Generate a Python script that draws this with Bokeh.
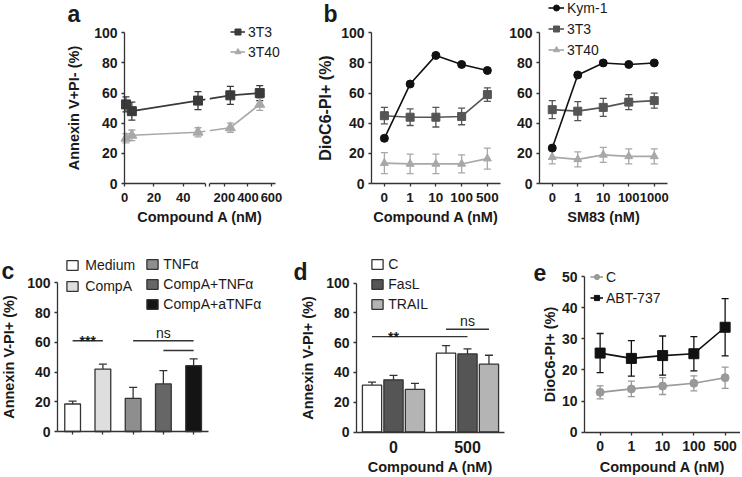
from bokeh.plotting import figure
from bokeh.models import (ColumnDataSource, Range1d, FixedTicker,
                          Whisker, TeeHead, Legend, LegendItem, Label)
from bokeh.layouts import row, column
from bokeh.core.properties import value
from bokeh.embed import file_html
from bokeh.resources import INLINE

# ------------------------------------------------------------------ data
# panel a (broken x axis)
A_DOSE = [1, 5, 50, 250, 500]
A_3T3 = [52.5, 48, 55, 58.5, 60]
A_3T3_ERR = [5, 6, 6, 6, 5]
A_3T40 = [30, 32, 34, 37, 52.5]
A_3T40_ERR = [3, 3.5, 3, 3, 4]
A_TICKS = [0, 20, 40, 200, 400, 600]

# panel b
B1_DOSE = ["0", "1", "10", "100", "500"]
B1_KYM = [30, 66, 85, 79, 75]
B1_KYM_ERR = [1.5, 1, 1, 1, 1]
B1_3T3 = [45, 44, 44, 44.5, 59]
B1_3T3_ERR = [5.5, 5.5, 6.5, 5.5, 4.5]
B1_3T40 = [13.5, 13, 13, 13, 16.5]
B1_3T40_ERR = [7, 6.5, 6.5, 6, 7]

B2_DOSE = ["0", "1", "10", "100", "1000"]
B2_KYM = [23.5, 72, 80, 79, 80]
B2_KYM_ERR = [1, 1, 1, 1, 1]
B2_3T3 = [49, 48, 50.5, 54, 55]
B2_3T3_ERR = [6, 6.3, 6, 5, 5]
B2_3T40 = [17.5, 16, 19, 18, 18]
B2_3T40_ERR = [4.5, 5, 5, 5, 5]

# panel c
C_GROUPS = ["Medium", "CompA", "TNFα", "CompA+TNFα", "CompA+aTNFα"]
C_VALUES = [18.5, 42, 22.3, 32, 44.3]
C_ERR = [1.9, 3.3, 7.4, 9, 4.5]
C_SIG_FROM = ["Medium", "TNFα", "CompA+TNFα"]
C_SIG_TO = ["CompA", "CompA+aTNFα", "CompA+aTNFα"]
C_SIG_Y = [61, 61, 54.5]

# panel d
D_DOSE = ["0", "500"]
D_SERIES = ["C", "FasL", "TRAIL"]
D_VALUES = {"C": [31.5, 53], "FasL": [35, 52.4], "TRAIL": [28.6, 45.5]}
D_ERR = {"C": [2, 5], "FasL": [3, 3.4], "TRAIL": [4, 6]}
D_SIG_FROM = [("0", "C"), ("500", "C"), ("500", "C")]
D_SIG_TO = [("500", "C"), ("500", "TRAIL"), ("500", "FasL")]
D_SIG_Y = [64, 69, 64]

# panel e
E_DOSE = ["0", "1", "10", "100", "500"]
E_C = [12.8, 13.9, 14.8, 15.7, 17.5]
E_C_ERR = [2.1, 2.5, 2.7, 2.4, 3.4]
E_ABT = [25.4, 23.7, 24.6, 25.2, 33.7]
E_ABT_ERR = [6.3, 5.7, 6.3, 5.5, 9.2]

Y_TICKS = [0, 20, 40, 60, 80, 100]
E_Y_TICKS = [0, 10, 20, 30, 40, 50]

# ------------------------------------------------------------------ style
FONT = "Liberation Sans"
INK = "#1a1a1a"
AXIS = "#333333"
DARK = "#3a3a3a"
MID = "#555555"
LIGHT = "#a8a8a8"
BLACK = "#111111"
C_FILLS = ["#ffffff", "#dedede", "#8e8e8e", "#666666", "#141414"]
D_FILLS = {"C": "#ffffff", "FasL": "#555555", "TRAIL": "#b4b4b4"}
D_OFFSET = {"C": -0.29, "FasL": 0.0, "TRAIL": 0.29}
ROW1_H, ROW2_H = 238, 237


def cat_pos(factors):
    """categorical scale: factor -> centre of its unit slot"""
    return {f: i + 0.5 for i, f in enumerate(factors)}


def make_fig(W, H, ox, ppx, oy, ppy, x_bounds, y_bounds, y_ticks):
    """Whole canvas is the frame; axes are pinned at data x=0 / y=0.
    ox/oy: pixel position of the axes origin (from left / from top),
    ppx/ppy: pixels per data unit."""
    xr = Range1d(-ox / ppx, (W - ox) / ppx)
    yr = Range1d(-(H - oy) / ppy, oy / ppy)
    p = figure(width=W, height=H, x_range=xr, y_range=yr, min_border=0,
               min_border_left=0, min_border_right=0, min_border_top=0, min_border_bottom=0,
               title=None, output_backend="svg", toolbar_location=None, tools="")
    p.outline_line_color = None
    p.grid.visible = False
    p.background_fill_color = "white"
    p.border_fill_color = "white"
    for ax in p.axis:
        ax.fixed_location = 0
        ax.axis_line_color = AXIS
        ax.axis_line_width = 1.3
        ax.major_tick_line_color = AXIS
        ax.major_tick_line_width = 1.3
        ax.major_tick_in = 0
        ax.major_tick_out = 3
        ax.minor_tick_line_color = None
        ax.major_label_text_font = FONT
        ax.major_label_text_font_style = "bold"
        ax.major_label_text_font_size = "14px"
        ax.major_label_text_color = INK
        ax.axis_label_text_font = FONT
        ax.axis_label_text_font_style = "bold"
        ax.axis_label_text_font_size = "14.5px"
        ax.axis_label_text_color = INK
    p.yaxis.major_label_standoff = 4
    p.yaxis.bounds = y_bounds
    p.yaxis.ticker = FixedTicker(ticks=y_ticks)
    p.xaxis.bounds = x_bounds
    p.xaxis.major_label_standoff = 6
    p.xaxis.axis_label_standoff = 4
    return p


def cat_axis(p, factors, labels=True):
    pos = cat_pos(factors)
    p.xaxis.ticker = FixedTicker(ticks=list(pos.values()))
    p.xaxis.major_label_overrides = {v: (f if labels else "") for f, v in pos.items()}
    return pos


def whisk(p, src, base, lower, upper, color, size=7, both=True):
    w = Whisker(base=base, lower=lower, upper=upper, source=src, dimension="height",
                line_color=color, line_width=1.3, level="underlay",
                upper_head=TeeHead(size=size, line_color=color, line_width=1.3),
                lower_head=TeeHead(size=size, line_color=color, line_width=1.3) if both else None)
    p.add_layout(w)


def series(p, x, y, err, color, marker, size):
    src = ColumnDataSource(dict(x=x, y=y,
                                lo=[a - b for a, b in zip(y, err)],
                                hi=[a + b for a, b in zip(y, err)]))
    whisk(p, src, "x", "lo", "hi", color)
    ln = p.line("x", "y", source=src, line_color=color, line_width=1.6)
    sc = p.scatter("x", "y", source=src, marker=marker, size=size,
                   fill_color=color, line_color=color)
    return ln, sc


def legend(p, items, loc, gw, gh, standoff, spacing):
    lg = Legend(items=items, location=loc, orientation="vertical",
                border_line_color=None, background_fill_alpha=0,
                padding=0, margin=0, glyph_width=gw, glyph_height=gh,
                label_height=gh, label_standoff=standoff, spacing=spacing,
                label_text_font=FONT, label_text_font_size="14px",
                label_text_color=INK)
    p.add_layout(lg)


def letter(p, text, x, y):
    p.add_layout(Label(x=x, y=y, x_units="screen", y_units="screen", text=text,
                       text_font=FONT, text_font_style="bold", text_font_size="23px",
                       text_color=INK, text_baseline="alphabetic"))


# ------------------------------------------------------------------ panel a
BREAK_LO, BREAK_HI, BREAK_GAP, RIGHT_SCALE, A_XMAX = 55, 75, 3, 0.08, 634


def brk(v):
    return v if v <= BREAK_LO else BREAK_LO + BREAK_GAP + (v - BREAK_HI) * RIGHT_SCALE


pa = make_fig(300, ROW1_H, 124, 1.47, 183, 1.507, (0, brk(A_XMAX)), (0, 100), Y_TICKS)
pa.xaxis.axis_line_color = None
pa.xaxis.major_label_text_font_size = "13px"
pa.xaxis.ticker = FixedTicker(ticks=[brk(t) for t in A_TICKS] + [brk(BREAK_LO), brk(BREAK_HI)])
overrides = {brk(t): str(t) for t in A_TICKS}
overrides[brk(BREAK_LO)] = ""
overrides[brk(BREAK_HI)] = ""
pa.xaxis.major_label_overrides = overrides
pa.yaxis.axis_label = "Annexin V+PI- (%)"
pa.yaxis.axis_label_standoff = 9
pa.xaxis.axis_label = "Compound A (nM)"
pa.segment(x0=[brk(0), brk(BREAK_HI)], x1=[brk(BREAK_LO), brk(A_XMAX)], y0=[0, 0], y1=[0, 0],
           line_color=AXIS, line_width=1.3)
xa = [brk(v) for v in A_DOSE]
a1 = series(pa, xa, A_3T3, A_3T3_ERR, DARK, "square", 9)
a2 = series(pa, xa, A_3T40, A_3T40_ERR, LIGHT, "triangle", 10)
pa.quad(left=[brk(BREAK_LO)], right=[brk(BREAK_HI)], bottom=[1], top=[99],
        fill_color="white", line_color=None)
legend(pa, [LegendItem(label="3T3", renderers=list(a1)),
            LegendItem(label="3T40", renderers=list(a2))], (230, 178.5), 15, 15, 3, 4)
letter(pa, "a", 67, 224.7)

# ------------------------------------------------------------------ panel b
pb1 = make_fig(205, ROW1_H, 71, 25.75, 183, 1.507, (0, len(B1_DOSE)), (0, 100), Y_TICKS)
pos_b1 = cat_axis(pb1, B1_DOSE)
pb1.xaxis.major_label_text_font_size = "13.5px"
pb1.yaxis.axis_label = "DioC6-PI+ (%)"
pb1.yaxis.axis_label_text_font_size = "16px"
pb1.yaxis.axis_label_standoff = 4
pb1.xaxis.axis_label = "Compound A (nM)"
xb1 = [pos_b1[d] for d in B1_DOSE]
series(pb1, xb1, B1_3T40, B1_3T40_ERR, LIGHT, "triangle", 8)
series(pb1, xb1, B1_3T3, B1_3T3_ERR, MID, "square", 8)
series(pb1, xb1, B1_KYM, B1_KYM_ERR, BLACK, "circle", 8)
letter(pb1, "b", 23, 224.7)

pb2 = make_fig(235, ROW1_H, 34, 25.5, 183, 1.507, (0, len(B2_DOSE)), (0, 100), Y_TICKS)
pos_b2 = cat_axis(pb2, B2_DOSE)
pb2.xaxis.major_label_text_font_size = "13px"
pb2.xaxis.axis_label = "SM83 (nM)"
xb2 = [pos_b2[d] for d in B2_DOSE]
b3 = series(pb2, xb2, B2_3T40, B2_3T40_ERR, LIGHT, "triangle", 8)
b2 = series(pb2, xb2, B2_3T3, B2_3T3_ERR, MID, "square", 8)
b1 = series(pb2, xb2, B2_KYM, B2_KYM_ERR, BLACK, "circle", 8)
legend(pb2, [LegendItem(label="Kym-1", renderers=list(b1)),
             LegendItem(label="3T3", renderers=list(b2)),
             LegendItem(label="3T40", renderers=list(b3))], (43, 180.5), 16, 15, 3, 5)

# ------------------------------------------------------------------ panel c
pc = make_fig(275, ROW2_H, 57, 30.25, 193, 1.487, (0, len(C_GROUPS)), (0, 100), Y_TICKS)
pos_c = cat_axis(pc, C_GROUPS, labels=False)
pc.yaxis.axis_label = "Annexin V-PI+ (%)"
pc.yaxis.axis_label_standoff = 7
src_c = ColumnDataSource(dict(x=[pos_c[g] for g in C_GROUPS], v=C_VALUES,
                              hi=[a + b for a, b in zip(C_VALUES, C_ERR)], fill=C_FILLS))
whisk(pc, src_c, "x", "v", "hi", AXIS, size=8, both=False)
vc = pc.vbar(x="x", top="v", width=0.52, source=src_c, fill_color="fill",
             line_color=AXIS, line_width=1.3)
pc.segment(x0=[pos_c[g] for g in C_SIG_FROM], x1=[pos_c[g] for g in C_SIG_TO],
           y0=C_SIG_Y, y1=C_SIG_Y, line_color=AXIS, line_width=1.4)
pc.text(x=[(pos_c[C_SIG_FROM[0]] + pos_c[C_SIG_TO[0]]) / 2], y=[C_SIG_Y[0]], text=["***"],
        text_align="center", text_baseline="alphabetic", text_font=value(FONT),
        text_font_style="bold", text_font_size="14px", text_color=INK)
pc.text(x=[pos_c[C_SIG_FROM[2]]], y=[C_SIG_Y[1]], text=["ns"], text_align="center",
        text_baseline="bottom", text_font=value(FONT), text_font_size="14px", text_color=INK)
items_c = [LegendItem(label=g, renderers=[vc], index=i) for i, g in enumerate(C_GROUPS)]
legend(pc, items_c[:2], (65.3, 181.5), 14, 12, 6, 5)
legend(pc, items_c[2:], (145.3, 163.5), 14, 12, 4, 4)
letter(pc, "c", 1, 204.3)

# ------------------------------------------------------------------ panel d
pd = make_fig(253, ROW2_H, 81, 74, 193.5, 1.49, (0, len(D_DOSE)), (0, 100), Y_TICKS)
pos_d = cat_axis(pd, D_DOSE)
pd.yaxis.axis_label = "Annexin V-PI+ (%)"
pd.yaxis.axis_label_standoff = 7
pd.xaxis.axis_label = "Compound A (nM)"
pd.xaxis.axis_label_standoff = 2
pd.xaxis.major_tick_line_color = None
pd.xaxis.major_label_text_font_size = "16px"
d_items = []
for s in D_SERIES:
    vals, errs = D_VALUES[s], D_ERR[s]
    src = ColumnDataSource(dict(x=[pos_d[g] + D_OFFSET[s] for g in D_DOSE], v=vals,
                                hi=[a + b for a, b in zip(vals, errs)]))
    whisk(pd, src, "x", "v", "hi", AXIS, size=8, both=False)
    r = pd.vbar(x="x", top="v", width=0.26, source=src, fill_color=D_FILLS[s],
                line_color=AXIS, line_width=1.3)
    d_items.append(LegendItem(label=s, renderers=[r]))
pd.segment(x0=[pos_d[g] + D_OFFSET[s] for g, s in D_SIG_FROM],
           x1=[pos_d[g] + D_OFFSET[s] for g, s in D_SIG_TO],
           y0=D_SIG_Y, y1=D_SIG_Y, line_color=AXIS, line_width=1.4)
pd.text(x=[pos_d[D_DOSE[0]]], y=[D_SIG_Y[0]], text=["**"], text_align="center",
        text_baseline="alphabetic", text_font=value(FONT), text_font_style="bold",
        text_font_size="14px", text_color=INK)
pd.text(x=[pos_d[D_DOSE[1]]], y=[D_SIG_Y[1]], text=["ns"], text_align="center",
        text_baseline="bottom", text_font=value(FONT), text_font_size="14px", text_color=INK)
legend(pd, d_items, (95.3, 163.5), 14, 12, 4, 4)
letter(pd, "d", 18, 203.3)

# ------------------------------------------------------------------ panel e
pe = make_fig(212, ROW2_H, 56, 31.25, 193.7, 3.114, (0, len(E_DOSE)), (0, 50), E_Y_TICKS)
pos_e = cat_axis(pe, E_DOSE)
pe.yaxis.axis_label = "DioC6-PI+ (%)"
pe.yaxis.axis_label_standoff = 1
pe.xaxis.axis_label = "Compound A (nM)"
xe = [pos_e[d] for d in E_DOSE]
e1 = series(pe, xe, E_C, E_C_ERR, "#999999", "circle", 8)
e2 = series(pe, xe, E_ABT, E_ABT_ERR, BLACK, "square", 10)
legend(pe, [LegendItem(label="C", renderers=list(e1)),
            LegendItem(label="ABT-737", renderers=list(e2))], (62, 169.5), 13, 15, 3, 5)
letter(pe, "e", 5, 203.3)

layout = column(row(pa, pb1, pb2), row(pc, pd, pe))
open("out.html", "w").write(file_html(layout, INLINE))
